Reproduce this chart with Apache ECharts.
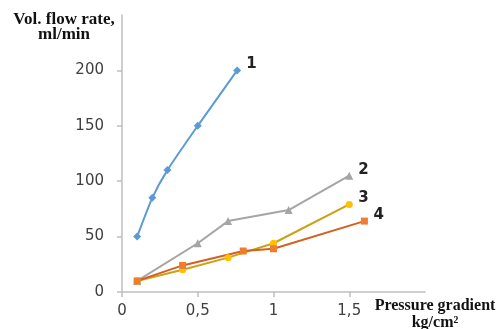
<!DOCTYPE html>
<html>
<head>
<meta charset="utf-8">
<script src="https://cdn.jsdelivr.net/npm/echarts@6/dist/echarts.min.js"></script>
<style>html,body{margin:0;padding:0;background:#fff}#c{width:500px;height:329px}</style>
</head>
<body>
<div id="c"></div>
<script>
const seriesNames = ['1', '2', '3', '4'];
const s1 = [[0.1, 50], [0.2, 85], [0.3, 110], [0.5, 150], [0.76, 200]];
const s2 = [[0.1, 10], [0.5, 44], [0.7, 64], [1.1, 74], [1.5, 105]];
const s3 = [[0.1, 10], [0.4, 20], [0.7, 31], [1.0, 44], [1.5, 79]];
const s4 = [[0.1, 10], [0.4, 24], [0.8, 37], [1.0, 39], [1.6, 64]];
const yTitle = ['Vol. flow rate,', 'ml/min'];
const xTitle = ['Pressure gradient', 'kg/cm²'];

const chart = echarts.init(document.getElementById('c'), null, {renderer: 'canvas'});
const axisLabelStyle = {color: '#404040', fontFamily: 'DejaVu Sans', fontSize: 15};
function mk(name, data, lineColor, markColor, symbol, size, smooth) {
  return {
    name: name, type: 'line', data: data, smooth: smooth,
    symbol: symbol, symbolSize: size,
    lineStyle: {color: lineColor, width: 2},
    itemStyle: {color: markColor},
    endLabel: {show: true, formatter: '{a}', color: '#222', fontFamily: 'DejaVu Sans',
      fontWeight: 'bold', fontSize: 15, offset: [5, -6], distance: 4},
    animation: false, z: 2
  };
}
chart.setOption({
  animation: false,
  grid: {left: 122, right: 75, top: 15, bottom: 37},
  xAxis: {
    type: 'value', min: 0, max: 2, interval: 0.5,
    axisLine: {lineStyle: {color: '#bfbfbf', width: 1.5}},
    axisTick: {show: true, length: 5, lineStyle: {color: '#bfbfbf', width: 1.5}},
    splitLine: {show: false},
    axisLabel: Object.assign({margin: 12, showMaxLabel: false,
      formatter: v => String(v).replace('.', ',')}, axisLabelStyle)
  },
  yAxis: {
    type: 'value', min: 0, max: 250, interval: 50,
    axisLine: {show: true, lineStyle: {color: '#bfbfbf', width: 1.5}},
    axisTick: {show: true, length: 5, lineStyle: {color: '#bfbfbf', width: 1.5}},
    splitLine: {show: false},
    axisLabel: Object.assign({margin: 18, showMaxLabel: false}, axisLabelStyle)
  },
  series: [
    mk(seriesNames[0], s1, '#5b9bd5', '#5b9bd5', 'diamond', 8, 0.2),
    mk(seriesNames[1], s2, '#a5a5a5', '#a5a5a5', 'triangle', 8, false),
    mk(seriesNames[2], s3, '#c9a216', '#ffc000', 'circle', 7, false),
    mk(seriesNames[3], s4, '#d4601f', '#ed7d31', 'rect', 7, false)
  ],
  graphic: [
    {type: 'text', style: {text: yTitle.join('\n'), x: 64, y: 12,
      textAlign: 'center', font: 'bold 17px "Liberation Serif"', fill: '#111', lineHeight: 15}},
    {type: 'text', style: {text: xTitle.join('\n'), x: 435, y: 297,
      textAlign: 'center', font: 'bold 16px "Liberation Serif"', fill: '#111', lineHeight: 17}}
  ]
});
</script>
</body>
</html>
